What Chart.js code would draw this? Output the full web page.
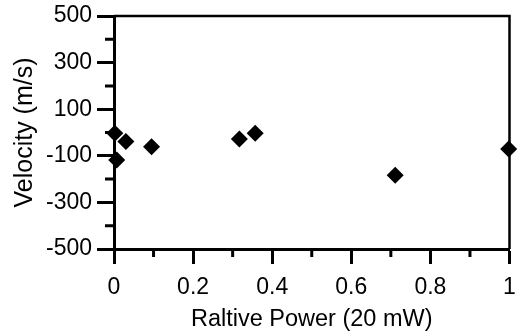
<!DOCTYPE html>
<html>
<head>
<meta charset="utf-8">
<script src="https://cdn.jsdelivr.net/npm/chart.js@4.4.1/dist/chart.umd.min.js"></script>
<style>
  html, body { margin: 0; padding: 0; background: #fff; }
  canvas { display: block; }
</style>
</head>
<body>
<canvas id="chart" width="518" height="331"></canvas>
<script>
// values
const power = [0.002, 0.007, 0.03, 0.095, 0.317, 0.357, 0.711, 0.998];
const velocity = [-3, -118, -39, -61, -28, -3, -183, -71];

// minor tick positions (unlabelled)
const xMinor = [0.1, 0.3, 0.5, 0.7, 0.9];
const yMinor = [400, 200, 0, -200, -400];

const FONT = 'Liberation Sans, Arial, Helvetica, sans-serif';

// draws the top/right frame and the short minor ticks
const frameAndMinor = {
  id: 'frameAndMinor',
  afterDraw(chart) {
    const { ctx, chartArea: a, scales } = chart;
    ctx.save();
    ctx.strokeStyle = '#000';
    ctx.lineWidth = 2.5;
    ctx.beginPath();
    ctx.moveTo(a.left, a.top);
    ctx.lineTo(a.right, a.top);
    ctx.lineTo(a.right, a.bottom);
    ctx.stroke();

    ctx.lineWidth = 3;
    ctx.beginPath();
    for (const v of yMinor) {
      const py = scales.y.getPixelForValue(v);
      ctx.moveTo(a.left - 9, py);
      ctx.lineTo(a.left, py);
    }
    for (const v of xMinor) {
      const px = scales.x.getPixelForValue(v);
      ctx.moveTo(px, a.bottom);
      ctx.lineTo(px, a.bottom + 8);
    }
    ctx.stroke();
    ctx.restore();
  },
};

const points = power.map((p, i) => ({ x: p, y: velocity[i] }));

new Chart(document.getElementById('chart').getContext('2d'), {
  type: 'scatter',
  data: {
    datasets: [{
      data: points,
      pointStyle: 'rectRot',
      pointRadius: 8.5,
      backgroundColor: '#000',
      borderWidth: 0,
      clip: false,
    }],
  },
  options: {
    responsive: false,
    animation: false,
    devicePixelRatio: 1,
    layout: { padding: { top: 16, right: 4, left: 0, bottom: 0 } },
    plugins: { legend: { display: false }, tooltip: { enabled: false } },
    scales: {
      x: {
        type: 'linear',
        min: 0,
        max: 1,
        afterFit: (s) => { s.height = 82; s.paddingRight = 0; s.paddingLeft = 0; },
        ticks: {
          stepSize: 0.2,
          maxRotation: 0,
          autoSkip: false,
          padding: 10,
          color: '#000',
          font: { family: FONT, size: 23 },
          callback: (v) => String(Math.round(v * 10) / 10),
        },
        grid: { drawOnChartArea: false, tickLength: 15, tickWidth: 3, tickColor: '#000' },
        border: { color: '#000', width: 3 },
        title: {
          display: true,
          text: 'Raltive Power (20 mW)',
          color: '#000',
          font: { family: FONT, size: 23.5, lineHeight: 1 },
          padding: 0,
        },
      },
      y: {
        min: -500,
        max: 500,
        afterFit: (s) => { s.width = 114; s.paddingTop = 0; s.paddingBottom = 0; },
        ticks: {
          stepSize: 200,
          padding: 5,
          color: '#000',
          font: { family: FONT, size: 23 },
        },
        grid: { drawOnChartArea: false, tickLength: 17, tickWidth: 3, tickColor: '#000' },
        border: { color: '#000', width: 3 },
        title: {
          display: true,
          text: 'Velocity (m/s)',
          color: '#000',
          font: { family: FONT, size: 25, lineHeight: 1 },
          padding: { top: 13 },
        },
      },
    },
  },
  plugins: [frameAndMinor],
});
</script>
</body>
</html>
